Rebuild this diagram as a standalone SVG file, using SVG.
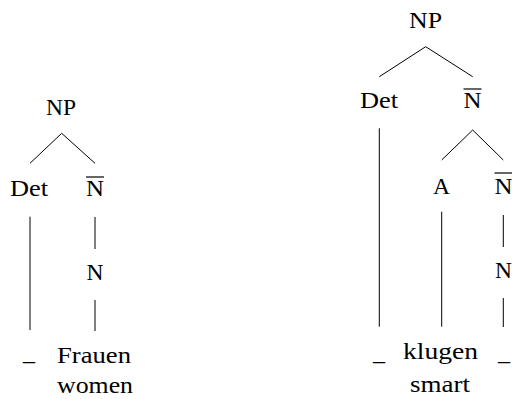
<svg xmlns="http://www.w3.org/2000/svg" width="512" height="399" viewBox="0 0 512 399">
<style>
text{font-family:"Liberation Serif","Times New Roman",serif;font-size:24px;fill:#000;text-anchor:middle}
.e{stroke:#000;stroke-width:1;fill:none}
.bar{stroke:#000;stroke-width:1.2}
</style>
<rect width="512" height="399" fill="#fff"/>
<g id="edges">
<path class="e" d="M61.7 133.3L30 163.3M61.7 133.3L95 163.3M30 216.7V330M95 217V249M95 300V331"/>
<path class="e" d="M425.7 46.7L379.3 76.7M425.7 46.7L472.7 76.7M379.3 128.3V326.7M472.7 130L441.7 160M472.7 130L503.3 160M441.7 211.7V326.7M503.3 215V247M503.3 298V327"/>
</g>
<g id="left-NP"><text x="61" y="115" textLength="30" lengthAdjust="spacingAndGlyphs">NP</text></g>
<g id="left-Det"><text x="29" y="196" textLength="38" lengthAdjust="spacingAndGlyphs">Det</text></g>
<g id="left-Nbar"><text x="95" y="196" textLength="18" lengthAdjust="spacingAndGlyphs">N</text><line class="bar" x1="86" y1="177" x2="104" y2="177"/></g>
<g id="left-N"><text x="95" y="280" textLength="17" lengthAdjust="spacingAndGlyphs">N</text></g>
<g id="left-gap"><text x="29" y="360" textLength="12" lengthAdjust="spacingAndGlyphs">_</text></g>
<g id="left-Frauen"><text x="94" y="363" textLength="74" lengthAdjust="spacingAndGlyphs">Frauen</text><text x="95" y="393" textLength="76" lengthAdjust="spacingAndGlyphs">women</text></g>
<g id="right-NP"><text x="425.5" y="28" textLength="33" lengthAdjust="spacingAndGlyphs">NP</text></g>
<g id="right-Det"><text x="379" y="108" textLength="38" lengthAdjust="spacingAndGlyphs">Det</text></g>
<g id="right-Nbar"><text x="472.5" y="108" textLength="18" lengthAdjust="spacingAndGlyphs">N</text><line class="bar" x1="463.5" y1="89" x2="481.5" y2="89"/></g>
<g id="right-A"><text x="441.5" y="194" textLength="17" lengthAdjust="spacingAndGlyphs">A</text></g>
<g id="right-Nbar2"><text x="503.5" y="194" textLength="18" lengthAdjust="spacingAndGlyphs">N</text><line class="bar" x1="494.5" y1="173" x2="512" y2="173"/></g>
<g id="right-N"><text x="503.5" y="278" textLength="17" lengthAdjust="spacingAndGlyphs">N</text></g>
<g id="right-gap1"><text x="379" y="359.5" textLength="12" lengthAdjust="spacingAndGlyphs">_</text></g>
<g id="right-klugen"><text x="440.5" y="359" textLength="75" lengthAdjust="spacingAndGlyphs">klugen</text><text x="440" y="392" textLength="60" lengthAdjust="spacingAndGlyphs">smart</text></g>
<g id="right-gap2"><text x="504" y="359.5" textLength="12" lengthAdjust="spacingAndGlyphs">_</text></g>
</svg>
